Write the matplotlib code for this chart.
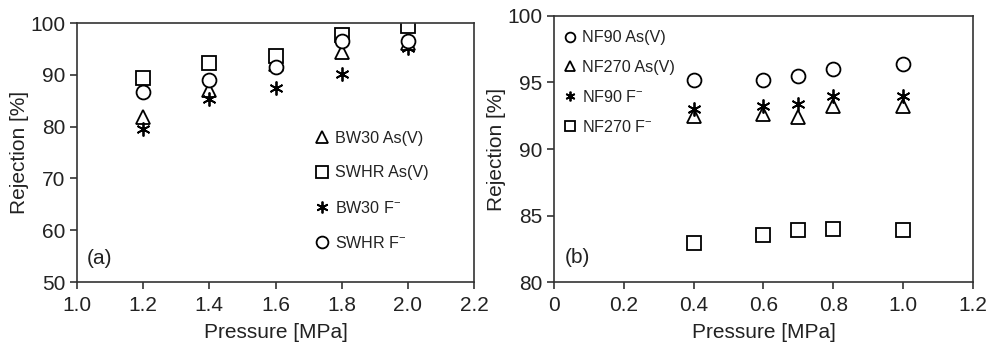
import numpy as np
import matplotlib
matplotlib.use("Agg")
import matplotlib.pyplot as plt

plt.rcParams['font.family'] = ['Liberation Sans', 'DejaVu Sans']
plt.rcParams['mathtext.fontset'] = 'custom'
plt.rcParams['mathtext.rm'] = 'Liberation Sans'

# panel (a) data
p_a = [1.2, 1.4, 1.6, 1.8, 2.0]
bw30_as = [81.8, 87.0, 92.1, 94.4, 96.1]
swhr_as = [89.4, 92.3, 93.6, 97.7, 99.4]
bw30_f = [79.6, 85.4, 87.5, 90.2, 95.2]
swhr_f = [86.7, 89.1, 91.5, 96.5, 96.5]

# panel (b) data
p_b = [0.4, 0.6, 0.7, 0.8, 1.0]
nf90_as = [95.2, 95.2, 95.5, 96.0, 96.4]
nf270_as = [92.5, 92.65, 92.4, 93.2, 93.2]
nf90_f = [93.0, 93.2, 93.4, 94.0, 94.0]
nf270_f = [82.9, 83.55, 83.9, 84.0, 83.9]

FM = r'F$^{-}$'
star = (6, 2, 0)
txt = '#222222'
spc = '#333333'

fig = plt.figure(figsize=(9.9, 3.47), dpi=100)
ax1 = fig.add_axes([0.0778, 0.1873, 0.401, 0.746])
ax2 = fig.add_axes([0.5596, 0.1873, 0.4232, 0.7666])


def style(ax):
    for s in ['top', 'right', 'left', 'bottom']:
        ax.spines[s].set_color(spc)
        ax.spines[s].set_linewidth(1.2)
    ax.tick_params(direction='out', length=5, width=1.2, color=spc,
                   labelsize=15, labelcolor=txt, top=False, right=False)
    ax.tick_params(axis='x', pad=5)
    ax.set_xlabel('Pressure [MPa]', fontsize=15, color=txt, labelpad=6)
    ax.set_ylabel('Rejection [%]', fontsize=15, color=txt, labelpad=1)


kw = dict(linestyle='none', mfc='white', mec='black', mew=1.3, ms=10)

ax1.plot(p_a, bw30_as, marker='^', label='BW30 As(V)', **kw)
ax1.plot(p_a, swhr_as, marker='s', label='SWHR As(V)', **kw)
ax1.plot(p_a, bw30_f, marker=star, label='BW30 ' + FM, **kw)
ax1.plot(p_a, swhr_f, marker='o', label='SWHR ' + FM, **kw)
ax1.set_xlim(1.0, 2.2)
ax1.set_ylim(50, 100)
ax1.set_xticks(np.arange(1.0, 2.21, 0.2))
ax1.set_xticklabels(['1.0', '1.2', '1.4', '1.6', '1.8', '2.0', '2.2'])
ax1.set_yticks(range(50, 101, 10))
style(ax1)
ax1.legend(loc='upper left', bbox_to_anchor=(0.56, 0.64), frameon=False,
           fontsize=11.6, labelspacing=1.2, handletextpad=0.3,
           handlelength=1.0, markerscale=0.85, labelcolor=txt)
ax1.text(0.025, 0.07, '(a)', transform=ax1.transAxes, fontsize=15, color=txt)

ax2.plot(p_b, nf90_as, marker='o', label='NF90 As(V)', **kw)
ax2.plot(p_b, nf270_as, marker='^', label='NF270 As(V)', **kw)
ax2.plot(p_b, nf90_f, marker=star, label='NF90 ' + FM, **kw)
ax2.plot(p_b, nf270_f, marker='s', label='NF270 ' + FM, **kw)
ax2.set_xlim(0, 1.2)
ax2.set_ylim(80, 100)
ax2.set_xticks(np.arange(0, 1.21, 0.2))
ax2.set_xticklabels(['0', '0.2', '0.4', '0.6', '0.8', '1.0', '1.2'])
ax2.set_yticks(range(80, 101, 5))
style(ax2)
ax2.legend(loc='upper left', bbox_to_anchor=(-0.015, 1.0), frameon=False,
           fontsize=11.6, labelspacing=0.88, handletextpad=0.2,
           handlelength=1.0, markerscale=0.7, labelcolor=txt)
ax2.text(0.025, 0.07, '(b)', transform=ax2.transAxes, fontsize=15, color=txt)

fig.savefig('out.png', dpi=100)
